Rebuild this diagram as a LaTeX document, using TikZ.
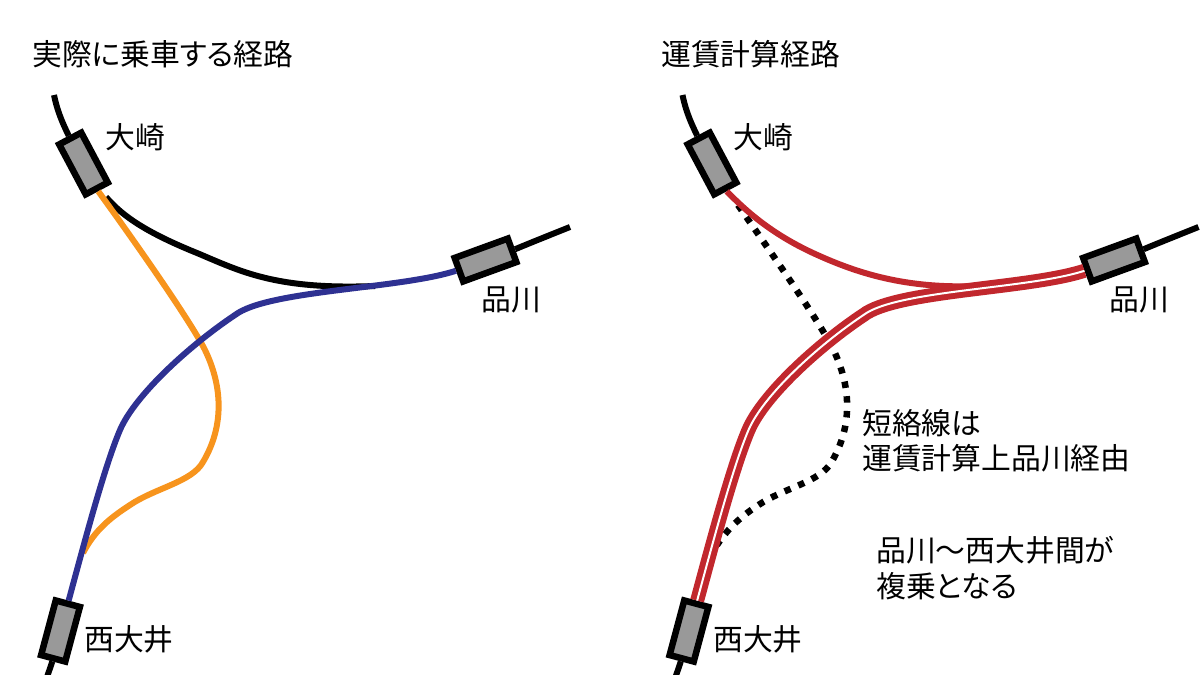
\documentclass[tikz,border=0pt]{standalone}
\usepackage{xcolor}
\usepackage{fontspec}
\setmainfont[RawFeature=+palt]{Noto Sans CJK JP}

\definecolor{lineorange}{HTML}{F7941D}
\definecolor{lineblue}{HTML}{2E3192}
\definecolor{linered}{HTML}{C1272D}

\begin{document}
\begin{tikzpicture}[%
        x=1pt, y=-1pt,
        station/.style={rectangle, draw=black, fill=black!40, line width=6.5pt, minimum width=56.5pt, minimum height=25pt, inner sep=0pt},
        label/.style={anchor=west, align=left, inner sep=0pt, font=\fontsize{29.8}{35.5}\selectfont},
        track/.style={line width=6pt, black},
        route/.style={line width=6pt, linered},
        farerun/.style={route, double=white, double distance=2pt},
        shortcut/.style={line width=6.5pt, black, dash pattern=on 6.5pt off 8.3pt}]
        \useasboundingbox (0,0) rectangle (1200,675);

        % Left: stations
        \node [station, rotate=-62] (osakiL) at (83.5,163.5) {};
        \node [station, rotate=20] (shinagawaL) at (485.5,260) {};
        \node [station, rotate=75] (nishioiL) at (60.5,631) {};

        % Left: free ends
        \coordinate (topL) at (54,95);
        \coordinate (rightL) at (570,227);
        \coordinate (bottomL) at (46,680);
        \coordinate (forkL) at (106,197);
        \coordinate (joinL) at (375,286);
        \coordinate (mergeL) at (83,553);

        % Left: lines
        \draw[track] (topL) .. controls (57,110) and (62,122) .. (osakiL.west);
        \draw[track] (shinagawaL.east) .. controls (530,243) and (550,235) .. (rightL);
        \draw[track] (nishioiL.west) -- (bottomL);
        \draw[track] (forkL) .. controls (120,213) and (140,230) .. (197,253) .. controls (240,271) and (275,290) .. (joinL);
        \draw[line width=6pt, lineorange] (osakiL.east) .. controls (130,235) and (190,320) .. (205,350) .. controls (222,385) and (225,425) .. (203,462) .. controls (192,482) and (155,488) .. (130,505) .. controls (110,518) and (95,530) .. (mergeL);
        \draw[line width=6pt, lineblue] (nishioiL.east) .. controls (85,540) and (105,465) .. (120,430) .. controls (135,395) and (190,345) .. (235,315) .. controls (268,290) and (400,289) .. (shinagawaL.west);

        % Right: stations
        \node [station, rotate=-62] (osakiR) at (712,163.5) {};
        \node [station, rotate=20] (shinagawaR) at (1114,260) {};
        \node [station, rotate=75] (nishioiR) at (689,631) {};

        % Right: free ends
        \coordinate (topR) at (682.5,95);
        \coordinate (rightR) at (1198.5,227);
        \coordinate (bottomR) at (674.5,680);
        \coordinate (forkR) at (738,205);
        \coordinate (joinR) at (975,286);
        \coordinate (mergeR) at (717,545);

        % Right: lines
        \draw[track] (topR) .. controls (685.5,110) and (690.5,122) .. (osakiR.west);
        \draw[track] (shinagawaR.east) .. controls (1158.5,243) and (1178.5,235) .. (rightR);
        \draw[track] (nishioiR.west) -- (bottomR);
        \draw[shortcut] (forkR) .. controls (760,237) and (819,320) .. (833.5,350) .. controls (850.5,385) and (853.5,425) .. (831.5,462) .. controls (820.5,482) and (783.5,488) .. (758.5,505) .. controls (738.5,518) and (727,530) .. (mergeR);
        \draw[route] (osakiR.east) .. controls (745,210) and (770,233) .. (813,253) .. controls (850,270) and (900,289) .. (joinR);
        \draw[farerun] (nishioiR.east) .. controls (713.5,540) and (733.5,465) .. (748.5,430) .. controls (763.5,395) and (818.5,345) .. (863.5,315) .. controls (896.5,290) and (1028.5,289) .. (shinagawaR.west);

        % Labels
        \node [label] (titleL) at (32,54) {実際に乗車する経路};
        \node [label] (titleR) at (661,54) {運賃計算経路};
        \node [label] (osakiTextL) at (105,137) {大崎};
        \node [label] (shinagawaTextL) at (481,300) {品川};
        \node [label] (nishioiTextL) at (84,639) {西大井};
        \node [label] (osakiTextR) at (733,137) {大崎};
        \node [label] (shinagawaTextR) at (1109,300) {品川};
        \node [label] (nishioiTextR) at (713,639) {西大井};
        \node [label] (noteA) at (862,441) {短絡線は\\運賃計算上品川経由};
        \node [label] (noteB) at (876,568) {品川〜西大井間が\\複乗となる};
    \end{tikzpicture}
\end{document}
